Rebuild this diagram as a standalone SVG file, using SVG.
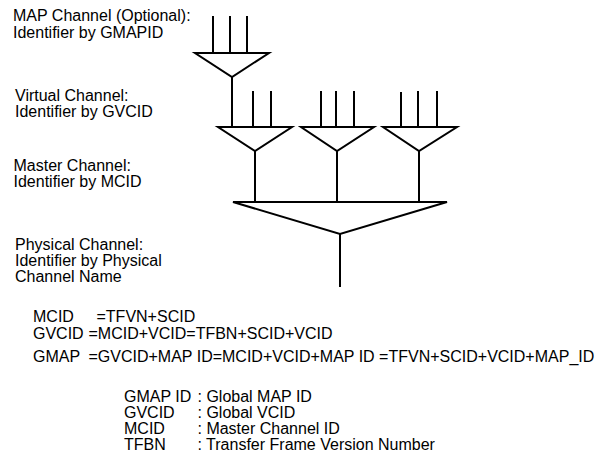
<svg xmlns="http://www.w3.org/2000/svg" width="608" height="461" viewBox="0 0 608 461">
<style>
text{font-family:"Liberation Sans",Arial,sans-serif;font-size:16px;fill:#000}
.w{stroke:#000;stroke-width:2;fill:none}
.m{stroke:#000;stroke-width:2;fill:#fff;stroke-linejoin:miter}
</style>
<rect width="608" height="461" fill="#fff"/>
<g id="labels">
<text x="13" y="21">MAP Channel (Optional):</text>
<text x="13" y="37.5">Identifier by GMAPID</text>
<text x="15" y="100.5">Virtual Channel:</text>
<text x="15" y="117">Identifier by GVCID</text>
<text x="13.5" y="171">Master Channel:</text>
<text x="13.5" y="187">Identifier by MCID</text>
<text x="15" y="250">Physical Channel:</text>
<text x="15" y="266">Identifier by Physical</text>
<text x="15" y="282">Channel Name</text>
</g>
<g id="connectors">
<path class="w" d="M213 16V53M230 16V53M247 16V53"/>
<path class="w" d="M232 77V127M253 91V127M271 91V127"/>
<path class="w" d="M321 91V127M336 91V127M354 91V127"/>
<path class="w" d="M401 92V127M418 91V127M437 91V127"/>
<path class="w" d="M255 151V203M337 151V203M419 151V203"/>
<path class="w" d="M340 234V287"/>
</g>
<g id="map-mux"><polygon class="m" points="195,53 269,53 232,77"/></g>
<g id="vc-mux-1"><polygon class="m" points="218,127 292,127 255,151"/></g>
<g id="vc-mux-2"><polygon class="m" points="301,127 374,127 337,151"/></g>
<g id="vc-mux-3"><polygon class="m" points="383,127 457,127 419,151"/></g>
<g id="mc-mux"><polygon class="m" points="233,202 447,202 340,234"/></g>
<g id="equations">
<text x="33" y="322">MCID</text><text x="96.5" y="322">=TFVN+SCID</text>
<text x="33" y="339">GVCID</text><text x="88.5" y="339">=MCID+VCID=TFBN+SCID+VCID</text>
<text x="33" y="362">GMAP</text><text x="88.5" y="362">=GVCID+MAP ID=MCID+VCID+MAP ID =TFVN+SCID+VCID+MAP_ID</text>
</g>
<g id="legend">
<text x="124" y="401.5">GMAP ID</text><text x="197.5" y="401.5">: Global MAP ID</text>
<text x="124" y="418">GVCID</text><text x="197.5" y="418">: Global VCID</text>
<text x="124" y="434">MCID</text><text x="197.5" y="434">: Master Channel ID</text>
<text x="124" y="450">TFBN</text><text x="197.5" y="450">: Transfer Frame Version Number</text>
</g>
</svg>
